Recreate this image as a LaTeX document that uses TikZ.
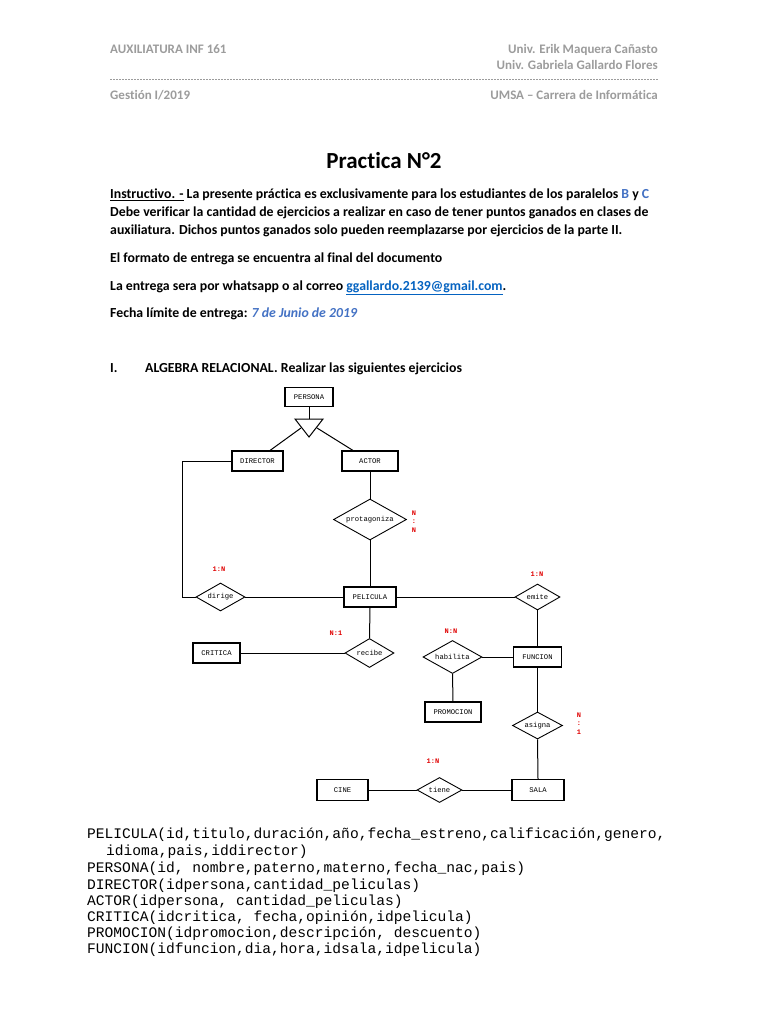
\documentclass[tikz,border=0pt]{standalone}
\usepackage{fontspec}
\setmainfont{Carlito}[Ligatures=NoCommon]
\newfontfamily\monofont{Liberation Mono}
\usetikzlibrary{shapes.geometric}
\definecolor{hdrgray}{HTML}{9C9C9C}
\definecolor{accblue}{HTML}{4472C4}
\definecolor{linkblue}{HTML}{0563C1}
\definecolor{cardred}{HTML}{E00000}
\begin{document}
\begin{tikzpicture}[x=1pt,y=-1pt,
  ent/.style={draw, line width=1.1pt, inner sep=0, font=\monofont\fontsize{7.2}{8}\selectfont},
  rel/.style={draw, diamond, aspect=2, inner sep=0, line width=0.9pt, font=\monofont\fontsize{7.2}{8}\selectfont},
  card/.style={text=cardred, inner sep=0, font=\monofont\bfseries\fontsize{7}{8}\selectfont},
  link/.style={line width=1pt},
  hdrL/.style={anchor=base west, text=hdrgray, inner sep=0, font=\bfseries\fontsize{13}{15}\selectfont},
  hdrR/.style={anchor=base east, text=hdrgray, inner sep=0, font=\bfseries\fontsize{13}{15}\selectfont},
  body/.style={anchor=base west, inner sep=0, font=\bfseries\fontsize{13.8}{16}\selectfont},
  code/.style={anchor=base west, inner sep=0, font=\monofont\fontsize{14.6}{16}\selectfont}]
\useasboundingbox[fill=white] (0,0) rectangle (768,1024);
% header
\node[hdrL] (h1) at (110,54) {AUXILIATURA INF 161};
\node[hdrR] (h2) at (658,54) {Univ. Erik Maquera Cañasto};
\node[hdrR] (h3) at (658,70) {Univ. Gabriela Gallardo Flores};
\coordinate (dl) at (110,79);
\coordinate (dr) at (658,79);
\draw[hdrgray, line width=0.5pt, dash pattern=on 2pt off 1pt] (dl) -- (dr);
\node[hdrL] (h4) at (110,100) {Gestión I/2019};
\node[hdrR] (h5) at (658,100) {UMSA – Carrera de Informática};
% title
\node[anchor=base, inner sep=0, font=\bfseries\fontsize{23}{27}\selectfont] (title) at (384,169) {Practica N°2};
% body
\node[body] (b1) at (110,199) {\underline{Instructivo. -} La presente práctica es exclusivamente para los estudiantes de los paralelos \textcolor{accblue}{B} y \textcolor{accblue}{C}};
\node[body] (b2) at (110,217) {Debe verificar la cantidad de ejercicios a realizar en caso de tener puntos ganados en clases de};
\node[body] (b3) at (110,235) {auxiliatura. Dichos puntos ganados solo pueden reemplazarse por ejercicios de la parte II.};
\node[body] (b4) at (110,262) {El formato de entrega se encuentra al final del documento};
\node[body] (b5) at (110,290) {La entrega sera por whatsapp o al correo \textcolor{linkblue}{\underline{ggallardo.2139@gmail.com}}.};
\node[body] (b6) at (110,317) {Fecha límite de entrega: \textcolor{accblue}{\textit{7 de Junio de 2019}}};
\node[body] (s1) at (110,372) {I.};
\node[body] (s2) at (145,372) {ALGEBRA RELACIONAL. Realizar las siguientes ejercicios};
% ER diagram
\node[ent, minimum width=48, minimum height=19] (persona) at (309,397) {PERSONA};
\coordinate (tl) at (295,419);
\coordinate (tr) at (323,419);
\coordinate (tb) at (309,437);
\coordinate (tt) at (309,419);
\coordinate (tL) at (301,428);
\coordinate (tR) at (317,428);
\draw[link] (tl) -- (tr) -- (tb) -- cycle;
\draw[link] (persona.south) -- (tt);
\node[ent, minimum width=51, minimum height=20] (director) at (257.5,461) {DIRECTOR};
\node[ent, minimum width=56, minimum height=20] (actor) at (370,461) {ACTOR};
\draw[link] (tL) -- ([xshift=12.5pt]director.north);
\draw[link] (tR) -- ([xshift=-17pt]actor.north);
\node[rel, minimum width=73, minimum height=41] (protag) at (370,519.5) {protagoniza};
\node[ent, minimum width=52, minimum height=20, line width=1.5pt] (pelicula) at (370,597) {PELICULA};
\node[rel, minimum width=49, minimum height=28] (dirige) at (220.5,597) {dirige};
\node[rel, minimum width=45, minimum height=26] (emite) at (537.5,597) {emite};
\node[ent, minimum width=48, minimum height=20] (funcion) at (537.5,657) {FUNCION};
\node[rel, minimum width=49, minimum height=29] (recibe) at (369.5,653) {recibe};
\node[ent, minimum width=47, minimum height=20] (critica) at (216.5,653) {CRITICA};
\node[rel, minimum width=59, minimum height=33] (habilita) at (452.5,657) {habilita};
\node[ent, minimum width=56, minimum height=20] (promocion) at (453,712) {PROMOCION};
\node[rel, minimum width=50, minimum height=27] (asigna) at (537.5,725.5) {asigna};
\node[ent, minimum width=52, minimum height=21] (sala) at (538,790) {SALA};
\node[rel, minimum width=45, minimum height=25] (tiene) at (439.5,790) {tiene};
\node[ent, minimum width=51, minimum height=21] (cine) at (342.5,790) {CINE};
\coordinate (corner) at (182,461);
\draw[link] (director.west) -- (corner) |- (dirige.west);
\draw[link] (actor.south) -- (protag.north);
\draw[link] (protag.south) -- (pelicula.north);
\draw[link] (dirige.east) -- (pelicula.west);
\draw[link] (pelicula.east) -- (emite.west);
\draw[link] (emite.south) -- (funcion.north);
\draw[link] (pelicula.south) -- (recibe.north);
\draw[link] (critica.east) -- (recibe.west);
\draw[link] (habilita.east) -- (funcion.west);
\draw[link] (habilita.south) -- (promocion.north);
\draw[link] (funcion.south) -- (asigna.north);
\draw[link] (asigna.south) -- (sala.north);
\draw[link] (cine.east) -- (tiene.west);
\draw[link] (tiene.east) -- (sala.west);
% cardinalities
\node[card, align=center, font=\monofont\bfseries\fontsize{7}{8.5}\selectfont] (c1) at (414,521.5) {N\\:\\N};
\node[card] (c2) at (219,569) {1:N};
\node[card] (c3) at (537,574) {1:N};
\node[card] (c4) at (336,633) {N:1};
\node[card] (c5) at (451,631) {N:N};
\node[card, align=center, font=\monofont\bfseries\fontsize{7}{8.5}\selectfont] (c6) at (579,723.5) {N\\:\\1};
\node[card] (c7) at (433,761) {1:N};
% relations text
\node[code] (r1) at (87,838) {PELICULA(id,titulo,duración,año,fecha\_estreno,calificación,genero,};
\node[code] (r2) at (106,855) {idioma,pais,iddirector)};
\node[code] (r3) at (87,872) {PERSONA(id, nombre,paterno,materno,fecha\_nac,pais)};
\node[code] (r4) at (87,889) {DIRECTOR(idpersona,cantidad\_peliculas)};
\node[code] (r5) at (87,905) {ACTOR(idpersona, cantidad\_peliculas)};
\node[code] (r6) at (87,921) {CRITICA(idcritica, fecha,opinión,idpelicula)};
\node[code] (r7) at (87,937) {PROMOCION(idpromocion,descripción, descuento)};
\node[code] (r8) at (87,953) {FUNCION(idfuncion,dia,hora,idsala,idpelicula)};
\end{tikzpicture}
\end{document}
